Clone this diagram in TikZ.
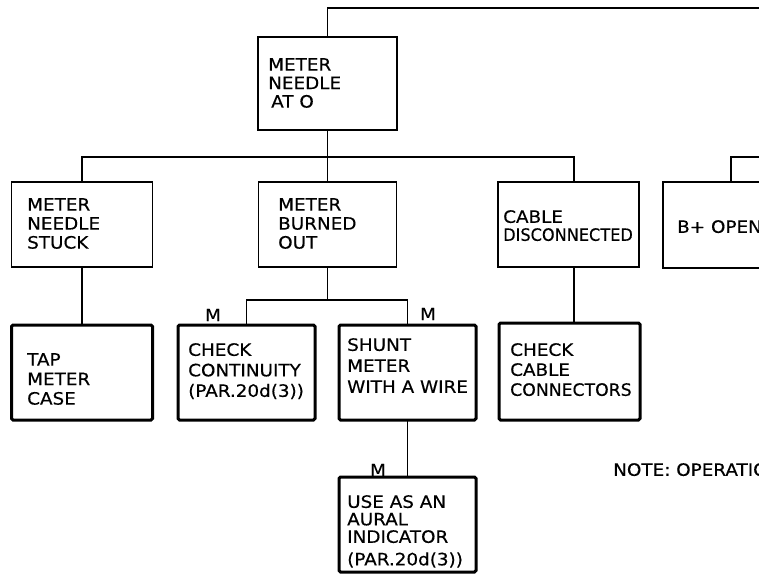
\documentclass[tikz,border=0pt]{standalone}
\usepackage{fontspec}
\setmainfont{DejaVu Sans}[FakeStretch=1.08,FakeBold=0.4]
\begin{document}
\begin{tikzpicture}[x=1pt,y=-1pt,
  thinbox/.style={draw, line width=1.4pt, inner sep=0pt, outer sep=0pt},
  thickbox/.style={draw, line width=3pt, inner sep=0pt, outer sep=0pt, rounded corners=1.5pt},
  lbl/.style={anchor=north west, inner sep=0pt, align=left},
  mlbl/.style={inner sep=0pt, font=\fontsize{17}{19}\selectfont},
  wire/.style={line width=1.2pt}]
\useasboundingbox (0,0) rectangle (759,577);
\clip (0,0) rectangle (759,577);
% boxes
\node[thinbox, minimum width=139pt, minimum height=93pt] (n0) at (327.5,83.5) {};
\node[thinbox, minimum width=141pt, minimum height=85pt] (s1) at (82,224.5) {};
\node[thinbox, minimum width=138pt, minimum height=85pt] (s2) at (327.5,224.5) {};
\node[thinbox, minimum width=141pt, minimum height=85pt] (s3) at (568.5,224.5) {};
\node[thinbox, minimum width=136pt, minimum height=86pt] (s4) at (731,225) {};
\node[thickbox, minimum width=141pt, minimum height=95pt] (t1) at (82,372.5) {};
\node[thickbox, minimum width=137pt, minimum height=95pt] (c1) at (246.5,372.5) {};
\node[thickbox, minimum width=137pt, minimum height=95pt] (c2) at (407.5,372.5) {};
\node[thickbox, minimum width=141pt, minimum height=97pt] (c3) at (569.5,371.5) {};
\node[thickbox, minimum width=137pt, minimum height=95pt] (u1) at (407.5,524.5) {};
% texts
\node[lbl, font=\fontsize{17}{18.5}\selectfont] (L0) at (268,58) {METER\\NEEDLE\\\hspace{3pt}AT O};
\node[lbl, font=\fontsize{17}{19}\selectfont] (L1) at (27,198) {METER\\NEEDLE\\STUCK};
\node[lbl, font=\fontsize{17}{19}\selectfont] (L2) at (278,198) {METER\\BURNED\\OUT};
\node[lbl, font=\fontsize{17}{18}\selectfont] (L3) at (503,210) {CABLE\\\scalebox{0.88}[1]{DISCONNECTED}};
\node[lbl, font=\fontsize{17}{19}\selectfont] (L4) at (677,220) {B+ OPEN};
\node[lbl, font=\fontsize{17}{19.5}\selectfont] (L5) at (27,353) {TAP\\METER\\CASE};
\node[lbl, font=\fontsize{17}{20.5}\selectfont] (L6) at (188,343) {CHECK\\CONTINUITY\\(PAR.20d(3))};
\node[lbl, font=\fontsize{17}{21}\selectfont] (L7) at (347,338) {SHUNT\\METER\\WITH A WIRE};
\node[lbl, font=\fontsize{17}{20}\selectfont] (L8) at (510,343) {CHECK\\CABLE\\\scalebox{0.94}[1]{CONNECTORS}};
\node[lbl, font=\fontsize{17}{17.5}\selectfont] (L9) at (347,495) {USE AS AN\\AURAL\\INDICATOR\\[5pt](PAR.20d(3))};
\node[lbl, font=\fontsize{17}{19}\selectfont] (note) at (613,463) {NOTE: OPERATION};
\node[mlbl] (m1) at (213,315) {M};
\node[mlbl] (m2) at (428,314) {M};
\node[mlbl] (m3) at (378,470) {M};
% connectors
\coordinate (topR) at (759,8);
\coordinate (j1) at (327.5,157);
\coordinate (edgeR) at (759,157);
\coordinate (j2) at (327.5,300);
\draw[wire] (n0.north) |- (topR);
\draw[wire] (n0.south) -- (s2.north);
\draw[wire] (s1.north) |- (j1) -| ([xshift=5.5pt]s3.north);
\draw[wire] (s4.north) |- (edgeR);
\draw[wire] (s1.south) -- (t1.north);
\draw[wire] (s2.south) -- (j2);
\draw[wire] (c1.north) |- (j2) -| (c2.north);
\draw[wire] ([xshift=5.5pt]s3.south) -- ([xshift=4.5pt]c3.north);
\draw[wire] (c2.south) -- (u1.north);
\end{tikzpicture}
\end{document}
